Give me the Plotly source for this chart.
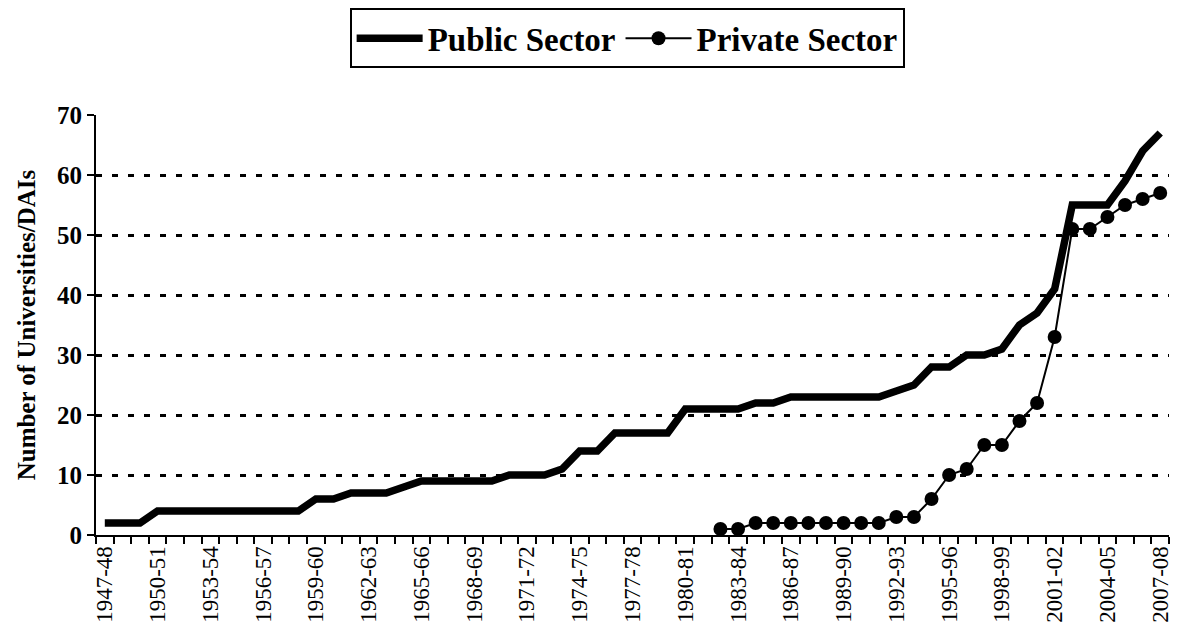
import plotly.graph_objects as go

years = [f"{y}-{str(y + 1)[-2:]}" for y in range(1947, 2008)]

public_sector = [2, 2, 2, 4, 4, 4, 4, 4, 4, 4, 4, 4, 6, 6, 7, 7, 7, 8, 9, 9,
                 9, 9, 9, 10, 10, 10, 11, 14, 14, 17, 17, 17, 17, 21, 21, 21, 21, 22, 22, 23,
                 23, 23, 23, 23, 23, 24, 25, 28, 28, 30, 30, 31, 35, 37, 41, 55, 55, 55, 59, 64,
                 67]

private_sector = [None] * 35 + [1, 1, 2, 2, 2, 2, 2, 2, 2, 2, 3, 3, 6, 10, 11, 15, 15, 19, 22, 33,
                                51, 51, 53, 55, 56, 57]

tick_text = [y if i % 3 == 0 else "" for i, y in enumerate(years)]
y_ticks = [0, 10, 20, 30, 40, 50, 60, 70]

FONT = "Liberation Serif"

fig = go.Figure()
fig.add_trace(go.Scatter(
    x=years, y=public_sector, name="Public Sector", mode="lines",
    line=dict(color="black", width=7.5),
))
fig.add_trace(go.Scatter(
    x=years, y=private_sector, name="Private Sector", mode="lines+markers",
    line=dict(color="black", width=2),
    marker=dict(symbol="circle", size=14, color="black"),
))

fig.update_layout(
    width=1176, height=631,
    margin=dict(l=88, r=15, t=107, b=104, autoexpand=False),
    paper_bgcolor="white", plot_bgcolor="white",
    font=dict(family=FONT, color="black"),
    showlegend=True,
    legend=dict(
        orientation="h", x=0.495, xanchor="center", y=1.254, yanchor="top",
        bordercolor="black", borderwidth=2,
        font=dict(family=FONT, size=33, weight="bold", color="black"),
        itemwidth=66, tracegroupgap=0,
    ),
    xaxis=dict(
        type="category", categoryorder="array", categoryarray=years,
        tickmode="array", tickvals=years, ticktext=tick_text,
        tickson="boundaries", ticks="outside", ticklen=7, tickwidth=2, tickcolor="black",
        tickangle=-90, tickfont=dict(family=FONT, size=23, color="black"),
        showline=True, linecolor="black", linewidth=2,
        showgrid=False, zeroline=False, automargin=False,
        range=[-0.5, len(years) - 0.5],
    ),
    yaxis=dict(
        range=[0, 70], tickmode="array", tickvals=y_ticks,
        ticks="outside", ticklen=7, tickwidth=2, tickcolor="black",
        tickfont=dict(family=FONT, size=25, weight="bold", color="black"),
        showline=True, linecolor="black", linewidth=2,
        showgrid=True, gridcolor="black", gridwidth=2.5, griddash="6px,10px",
        zeroline=False, automargin=False,
        title=dict(text="Number of Universities/DAIs",
                   font=dict(family=FONT, size=25, weight="bold", color="black"),
                   standoff=14),
    ),
)

fig.write_html("out.html")
